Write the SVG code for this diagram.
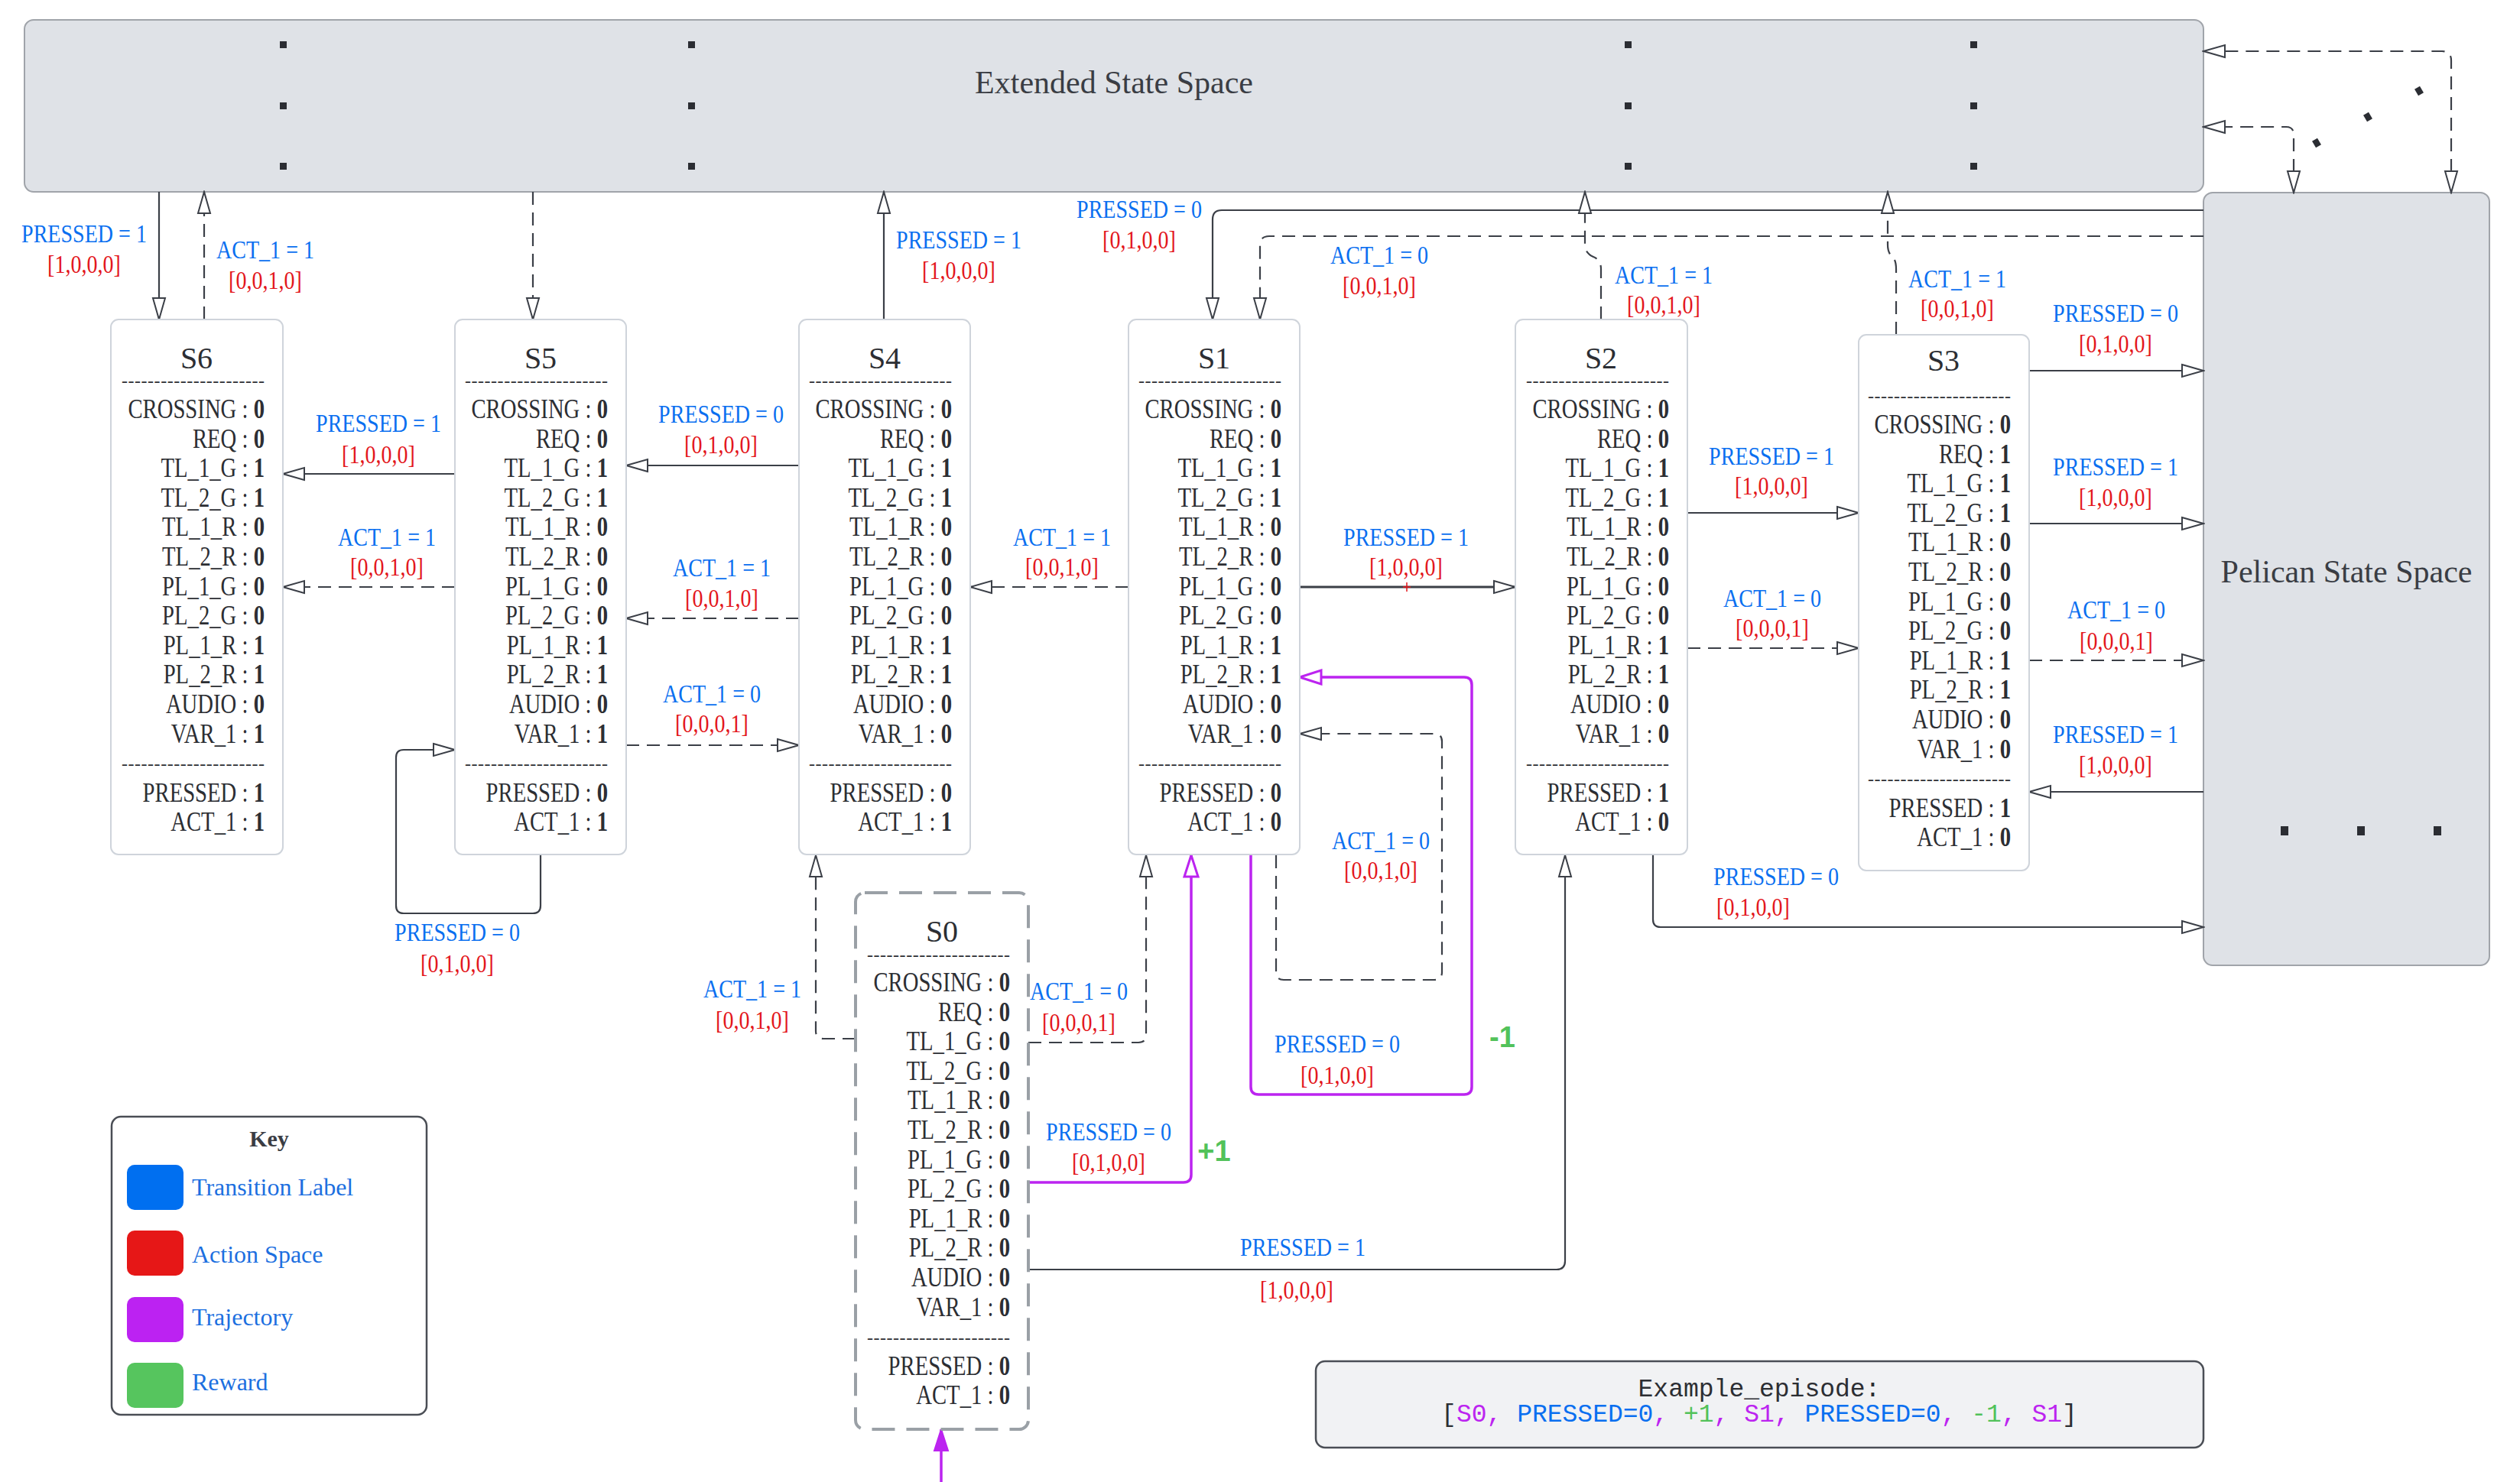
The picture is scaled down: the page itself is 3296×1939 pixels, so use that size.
<svg xmlns="http://www.w3.org/2000/svg" width="3296" height="1939" viewBox="0 0 3296 1939">
<defs>
<marker id="a" viewBox="0 0 32 20" refX="30" refY="10" markerWidth="32" markerHeight="20" markerUnits="userSpaceOnUse" orient="auto-start-reverse"><path d="M2,2 L30,10 L2,18 Z" fill="#fff" stroke="#3b3f47" stroke-width="2"/></marker>
<marker id="p" viewBox="0 0 32 22" refX="30" refY="11" markerWidth="32" markerHeight="22" markerUnits="userSpaceOnUse" orient="auto-start-reverse"><path d="M2,2 L30,11 L2,20 Z" fill="#fff" stroke="#bc24f0" stroke-width="3"/></marker>
<marker id="pf" viewBox="0 0 32 22" refX="30" refY="11" markerWidth="32" markerHeight="22" markerUnits="userSpaceOnUse" orient="auto"><path d="M2,2 L30,11 L2,20 Z" fill="#bc24f0" stroke="#bc24f0" stroke-width="2"/></marker>
</defs>
<style>
.big{fill:#dfe2e7;stroke:#a0a4aa;stroke-width:2}
.node{fill:#fff;stroke:#cfd4db;stroke-width:2}
.ln{fill:none;stroke:#3b3f47;stroke-width:2.2;marker-end:url(#a)}
.dl{fill:none;stroke:#3b3f47;stroke-width:2.2;stroke-dasharray:17 10;marker-end:url(#a)}
.bi{marker-start:url(#a)}
.pl{fill:none;stroke:#bc24f0;stroke-width:3.5;marker-end:url(#p)}
.bt{font-family:"Liberation Serif",serif;font-size:42px;fill:#3a3d44;text-anchor:middle}
.ti{font-family:"Liberation Serif",serif;font-size:40px;fill:#2c2e33;text-anchor:middle}
.d{font-family:"Liberation Serif",serif;font-size:24px;fill:#2c2e33;text-anchor:end}
.t{font-family:"Liberation Serif",serif;font-size:35px;fill:#2c2e33;text-anchor:end;transform-box:fill-box;transform-origin:100% 50%;transform:scaleX(0.82)}
.v{font-weight:bold}
.lb,.la{font-family:"Liberation Serif",serif;font-size:33px;text-anchor:middle;transform-box:fill-box;transform-origin:50% 50%;transform:scaleX(0.85)}
.lb{fill:#0a6ff0}
.la{fill:#e3161b}
.rw{font-family:"Liberation Sans",sans-serif;font-size:38px;font-weight:bold;fill:#52c25a;text-anchor:middle}
.dot{fill:#2b2d33}
.kt{font-family:"Liberation Serif",serif;font-size:32px;fill:#1c6fe0}
.mono{font-family:"Liberation Mono",monospace;font-size:33px;fill:#2c2e33;text-anchor:middle}
</style>
<rect width="3296" height="1939" fill="#fff"/>

<g id="extended">
<rect class="big" x="32" y="26" width="2850" height="225" rx="12"/>
<text class="bt" x="1457" y="122">Extended State Space</text>
<rect class="dot" x="366" y="54" width="9" height="9"/><rect class="dot" x="366" y="134" width="9" height="9"/><rect class="dot" x="366" y="213" width="9" height="9"/>
<rect class="dot" x="900" y="54" width="9" height="9"/><rect class="dot" x="900" y="134" width="9" height="9"/><rect class="dot" x="900" y="213" width="9" height="9"/>
<rect class="dot" x="2125" y="54" width="9" height="9"/><rect class="dot" x="2125" y="134" width="9" height="9"/><rect class="dot" x="2125" y="213" width="9" height="9"/>
<rect class="dot" x="2577" y="54" width="9" height="9"/><rect class="dot" x="2577" y="134" width="9" height="9"/><rect class="dot" x="2577" y="213" width="9" height="9"/>
</g>

<g id="pelican">
<rect class="big" x="2882" y="252" width="374" height="1011" rx="12"/>
<text class="bt" x="3069" y="762">Pelican State Space</text>
<rect class="dot" x="2983" y="1081" width="10" height="12"/><rect class="dot" x="3083" y="1081" width="10" height="12"/><rect class="dot" x="3183" y="1081" width="10" height="12"/>
</g>

<g id="ellipsis-dots">
<rect class="dot" x="3026" y="182" width="8" height="10" transform="rotate(-30 3030 187)"/>
<rect class="dot" x="3093" y="148" width="8" height="10" transform="rotate(-30 3097 153)"/>
<rect class="dot" x="3160" y="114" width="8" height="10" transform="rotate(-30 3164 119)"/>
</g>

<g id="connectors">
<path class="ln" d="M208,251 V418"/>
<path class="dl" d="M267,418 V251"/>
<path class="dl" d="M697,251 V418"/>
<path class="ln" d="M595,620 H370"/>
<path class="dl" d="M595,768 H370"/>
<path class="ln" d="M1045,609 H819"/>
<path class="dl" d="M1045,809 H819"/>
<path class="dl" d="M819,975 H1045"/>
<path class="ln" d="M707,1118 V1185 Q707,1195 697,1195 H528 Q518,1195 518,1185 V991 Q518,981 528,981 H595"/>
<path class="ln" d="M1156,418 V251"/>
<path class="dl" d="M1476,768 H1269"/>
<path class="ln" style="stroke-width:3" d="M1700,768 H1982"/>
<path d="M1840,762 V774 M1835,768 H1845" stroke="#e3161b" stroke-width="1.5" fill="none"/>
<path class="ln" d="M2882,275 H1598 Q1586,275 1586,287 V418"/>
<path class="dl" d="M2882,309 H1660 Q1648,309 1648,321 V418"/>
<path class="dl" d="M2094,418 V352 Q2094,340 2084,336 Q2073,331 2073,320 V251"/>
<path class="dl" d="M2480,438 V352 Q2480,340 2475,336 Q2469,331 2469,320 V251"/>
<path class="ln" d="M2207,671 H2431"/>
<path class="dl" d="M2207,848 H2431"/>
<path class="ln" d="M2654,485 H2882"/>
<path class="ln" d="M2654,685 H2882"/>
<path class="dl" d="M2654,864 H2882"/>
<path class="ln" d="M2882,1036 H2654"/>
<path class="ln" d="M2162,1118 V1203 Q2162,1213 2172,1213 H2882"/>
<path class="ln" d="M1345,1661 H2036 Q2047,1661 2047,1650 V1119"/>
<path class="dl" d="M1119,1359 H1077 Q1067,1359 1067,1349 V1119"/>
<path class="dl" d="M1345,1364 H1489 Q1499,1364 1499,1354 V1119"/>
<path class="pl" d="M1345,1547 H1548 Q1558,1547 1558,1537 V1119"/>
<path class="pl" d="M1636,1119 V1422 Q1636,1432 1646,1432 H1915 Q1925,1432 1925,1422 V896 Q1925,886 1915,886 H1700"/>
<path class="dl" d="M1669,1119 V1272 Q1669,1282 1679,1282 H1876 Q1886,1282 1886,1272 V970 Q1886,960 1876,960 H1700"/>
<path d="M1231,1939 V1870" fill="none" stroke="#bc24f0" stroke-width="3.5" marker-end="url(#pf)"/>
<path class="dl bi" d="M3206,252 V79 Q3206,67 3194,67 H2882"/>
<path class="dl bi" d="M3000,252 V176 Q3000,166 2990,166 H2882"/>

<text class="lb" x="110" y="317">PRESSED = 1</text><text class="la" x="110" y="357">[1,0,0,0]</text>
<text class="lb" x="347" y="338">ACT_1 = 1</text><text class="la" x="347" y="378">[0,0,1,0]</text>
<text class="lb" x="495" y="565">PRESSED = 1</text><text class="la" x="495" y="606">[1,0,0,0]</text>
<text class="lb" x="506" y="714">ACT_1 = 1</text><text class="la" x="506" y="753">[0,0,1,0]</text>
<text class="lb" x="943" y="553">PRESSED = 0</text><text class="la" x="943" y="593">[0,1,0,0]</text>
<text class="lb" x="944" y="754">ACT_1 = 1</text><text class="la" x="944" y="794">[0,0,1,0]</text>
<text class="lb" x="931" y="919">ACT_1 = 0</text><text class="la" x="931" y="958">[0,0,0,1]</text>
<text class="lb" x="598" y="1231">PRESSED = 0</text><text class="la" x="598" y="1272">[0,1,0,0]</text>
<text class="lb" x="1254" y="325">PRESSED = 1</text><text class="la" x="1254" y="365">[1,0,0,0]</text>
<text class="lb" x="1389" y="714">ACT_1 = 1</text><text class="la" x="1389" y="753">[0,0,1,0]</text>
<text class="lb" x="1839" y="714">PRESSED = 1</text><text class="la" x="1839" y="753">[1,0,0,0]</text>
<text class="lb" x="1490" y="285">PRESSED = 0</text><text class="la" x="1490" y="325">[0,1,0,0]</text>
<text class="lb" x="1804" y="345">ACT_1 = 0</text><text class="la" x="1804" y="385">[0,0,1,0]</text>
<text class="lb" x="2176" y="371">ACT_1 = 1</text><text class="la" x="2176" y="410">[0,0,1,0]</text>
<text class="lb" x="2560" y="376">ACT_1 = 1</text><text class="la" x="2560" y="415">[0,0,1,0]</text>
<text class="lb" x="2317" y="608">PRESSED = 1</text><text class="la" x="2317" y="647">[1,0,0,0]</text>
<text class="lb" x="2318" y="794">ACT_1 = 0</text><text class="la" x="2318" y="833">[0,0,0,1]</text>
<text class="lb" x="2767" y="421">PRESSED = 0</text><text class="la" x="2767" y="461">[0,1,0,0]</text>
<text class="lb" x="2767" y="622">PRESSED = 1</text><text class="la" x="2767" y="662">[1,0,0,0]</text>
<text class="lb" x="2768" y="809">ACT_1 = 0</text><text class="la" x="2768" y="850">[0,0,0,1]</text>
<text class="lb" x="2767" y="972">PRESSED = 1</text><text class="la" x="2767" y="1012">[1,0,0,0]</text>
<text class="lb" x="2323" y="1158">PRESSED = 0</text><text class="la" x="2293" y="1198">[0,1,0,0]</text>
<text class="lb" x="1704" y="1643">PRESSED = 1</text><text class="la" x="1696" y="1699">[1,0,0,0]</text>
<text class="lb" x="984" y="1305">ACT_1 = 1</text><text class="la" x="984" y="1346">[0,0,1,0]</text>
<text class="lb" x="1411" y="1308">ACT_1 = 0</text><text class="la" x="1411" y="1349">[0,0,0,1]</text>
<text class="lb" x="1450" y="1492">PRESSED = 0</text><text class="la" x="1450" y="1532">[0,1,0,0]</text>
<text class="lb" x="1749" y="1377">PRESSED = 0</text><text class="la" x="1749" y="1418">[0,1,0,0]</text>
<text class="lb" x="1806" y="1111">ACT_1 = 0</text><text class="la" x="1806" y="1150">[0,0,1,0]</text>
<text class="rw" x="1588" y="1519">+1</text>
<text class="rw" x="1965" y="1370">-1</text>
</g>

<g id="S6">
<rect class="node" x="145" y="418" width="225" height="700" rx="10"/>
<text class="ti" x="257" y="482">S6</text>
<text class="d" x="346" y="506" textLength="187" lengthAdjust="spacing">----------------------</text>
<text class="t" x="346" y="547">CROSSING : <tspan class="v">0</tspan></text>
<text class="t" x="346" y="586">REQ : <tspan class="v">0</tspan></text>
<text class="t" x="346" y="624">TL_1_G : <tspan class="v">1</tspan></text>
<text class="t" x="346" y="663">TL_2_G : <tspan class="v">1</tspan></text>
<text class="t" x="346" y="701">TL_1_R : <tspan class="v">0</tspan></text>
<text class="t" x="346" y="740">TL_2_R : <tspan class="v">0</tspan></text>
<text class="t" x="346" y="779">PL_1_G : <tspan class="v">0</tspan></text>
<text class="t" x="346" y="817">PL_2_G : <tspan class="v">0</tspan></text>
<text class="t" x="346" y="856">PL_1_R : <tspan class="v">1</tspan></text>
<text class="t" x="346" y="894">PL_2_R : <tspan class="v">1</tspan></text>
<text class="t" x="346" y="933">AUDIO : <tspan class="v">0</tspan></text>
<text class="t" x="346" y="972">VAR_1 : <tspan class="v">1</tspan></text>
<text class="d" x="346" y="1007" textLength="187" lengthAdjust="spacing">----------------------</text>
<text class="t" x="346" y="1049">PRESSED : <tspan class="v">1</tspan></text>
<text class="t" x="346" y="1087">ACT_1 : <tspan class="v">1</tspan></text>
</g>

<g id="S5">
<rect class="node" x="595" y="418" width="224" height="700" rx="10"/>
<text class="ti" x="707" y="482">S5</text>
<text class="d" x="795" y="506" textLength="187" lengthAdjust="spacing">----------------------</text>
<text class="t" x="795" y="547">CROSSING : <tspan class="v">0</tspan></text>
<text class="t" x="795" y="586">REQ : <tspan class="v">0</tspan></text>
<text class="t" x="795" y="624">TL_1_G : <tspan class="v">1</tspan></text>
<text class="t" x="795" y="663">TL_2_G : <tspan class="v">1</tspan></text>
<text class="t" x="795" y="701">TL_1_R : <tspan class="v">0</tspan></text>
<text class="t" x="795" y="740">TL_2_R : <tspan class="v">0</tspan></text>
<text class="t" x="795" y="779">PL_1_G : <tspan class="v">0</tspan></text>
<text class="t" x="795" y="817">PL_2_G : <tspan class="v">0</tspan></text>
<text class="t" x="795" y="856">PL_1_R : <tspan class="v">1</tspan></text>
<text class="t" x="795" y="894">PL_2_R : <tspan class="v">1</tspan></text>
<text class="t" x="795" y="933">AUDIO : <tspan class="v">0</tspan></text>
<text class="t" x="795" y="972">VAR_1 : <tspan class="v">1</tspan></text>
<text class="d" x="795" y="1007" textLength="187" lengthAdjust="spacing">----------------------</text>
<text class="t" x="795" y="1049">PRESSED : <tspan class="v">0</tspan></text>
<text class="t" x="795" y="1087">ACT_1 : <tspan class="v">1</tspan></text>
</g>

<g id="S4">
<rect class="node" x="1045" y="418" width="224" height="700" rx="10"/>
<text class="ti" x="1157" y="482">S4</text>
<text class="d" x="1245" y="506" textLength="187" lengthAdjust="spacing">----------------------</text>
<text class="t" x="1245" y="547">CROSSING : <tspan class="v">0</tspan></text>
<text class="t" x="1245" y="586">REQ : <tspan class="v">0</tspan></text>
<text class="t" x="1245" y="624">TL_1_G : <tspan class="v">1</tspan></text>
<text class="t" x="1245" y="663">TL_2_G : <tspan class="v">1</tspan></text>
<text class="t" x="1245" y="701">TL_1_R : <tspan class="v">0</tspan></text>
<text class="t" x="1245" y="740">TL_2_R : <tspan class="v">0</tspan></text>
<text class="t" x="1245" y="779">PL_1_G : <tspan class="v">0</tspan></text>
<text class="t" x="1245" y="817">PL_2_G : <tspan class="v">0</tspan></text>
<text class="t" x="1245" y="856">PL_1_R : <tspan class="v">1</tspan></text>
<text class="t" x="1245" y="894">PL_2_R : <tspan class="v">1</tspan></text>
<text class="t" x="1245" y="933">AUDIO : <tspan class="v">0</tspan></text>
<text class="t" x="1245" y="972">VAR_1 : <tspan class="v">0</tspan></text>
<text class="d" x="1245" y="1007" textLength="187" lengthAdjust="spacing">----------------------</text>
<text class="t" x="1245" y="1049">PRESSED : <tspan class="v">0</tspan></text>
<text class="t" x="1245" y="1087">ACT_1 : <tspan class="v">1</tspan></text>
</g>

<g id="S1">
<rect class="node" x="1476" y="418" width="224" height="700" rx="10"/>
<text class="ti" x="1588" y="482">S1</text>
<text class="d" x="1676" y="506" textLength="187" lengthAdjust="spacing">----------------------</text>
<text class="t" x="1676" y="547">CROSSING : <tspan class="v">0</tspan></text>
<text class="t" x="1676" y="586">REQ : <tspan class="v">0</tspan></text>
<text class="t" x="1676" y="624">TL_1_G : <tspan class="v">1</tspan></text>
<text class="t" x="1676" y="663">TL_2_G : <tspan class="v">1</tspan></text>
<text class="t" x="1676" y="701">TL_1_R : <tspan class="v">0</tspan></text>
<text class="t" x="1676" y="740">TL_2_R : <tspan class="v">0</tspan></text>
<text class="t" x="1676" y="779">PL_1_G : <tspan class="v">0</tspan></text>
<text class="t" x="1676" y="817">PL_2_G : <tspan class="v">0</tspan></text>
<text class="t" x="1676" y="856">PL_1_R : <tspan class="v">1</tspan></text>
<text class="t" x="1676" y="894">PL_2_R : <tspan class="v">1</tspan></text>
<text class="t" x="1676" y="933">AUDIO : <tspan class="v">0</tspan></text>
<text class="t" x="1676" y="972">VAR_1 : <tspan class="v">0</tspan></text>
<text class="d" x="1676" y="1007" textLength="187" lengthAdjust="spacing">----------------------</text>
<text class="t" x="1676" y="1049">PRESSED : <tspan class="v">0</tspan></text>
<text class="t" x="1676" y="1087">ACT_1 : <tspan class="v">0</tspan></text>
</g>

<g id="S2">
<rect class="node" x="1982" y="418" width="225" height="700" rx="10"/>
<text class="ti" x="2094" y="482">S2</text>
<text class="d" x="2183" y="506" textLength="187" lengthAdjust="spacing">----------------------</text>
<text class="t" x="2183" y="547">CROSSING : <tspan class="v">0</tspan></text>
<text class="t" x="2183" y="586">REQ : <tspan class="v">0</tspan></text>
<text class="t" x="2183" y="624">TL_1_G : <tspan class="v">1</tspan></text>
<text class="t" x="2183" y="663">TL_2_G : <tspan class="v">1</tspan></text>
<text class="t" x="2183" y="701">TL_1_R : <tspan class="v">0</tspan></text>
<text class="t" x="2183" y="740">TL_2_R : <tspan class="v">0</tspan></text>
<text class="t" x="2183" y="779">PL_1_G : <tspan class="v">0</tspan></text>
<text class="t" x="2183" y="817">PL_2_G : <tspan class="v">0</tspan></text>
<text class="t" x="2183" y="856">PL_1_R : <tspan class="v">1</tspan></text>
<text class="t" x="2183" y="894">PL_2_R : <tspan class="v">1</tspan></text>
<text class="t" x="2183" y="933">AUDIO : <tspan class="v">0</tspan></text>
<text class="t" x="2183" y="972">VAR_1 : <tspan class="v">0</tspan></text>
<text class="d" x="2183" y="1007" textLength="187" lengthAdjust="spacing">----------------------</text>
<text class="t" x="2183" y="1049">PRESSED : <tspan class="v">1</tspan></text>
<text class="t" x="2183" y="1087">ACT_1 : <tspan class="v">0</tspan></text>
</g>

<g id="S3">
<rect class="node" x="2431" y="438" width="223" height="701" rx="10"/>
<text class="ti" x="2542" y="485">S3</text>
<text class="d" x="2630" y="526" textLength="187" lengthAdjust="spacing">----------------------</text>
<text class="t" x="2630" y="567">CROSSING : <tspan class="v">0</tspan></text>
<text class="t" x="2630" y="606">REQ : <tspan class="v">1</tspan></text>
<text class="t" x="2630" y="644">TL_1_G : <tspan class="v">1</tspan></text>
<text class="t" x="2630" y="683">TL_2_G : <tspan class="v">1</tspan></text>
<text class="t" x="2630" y="721">TL_1_R : <tspan class="v">0</tspan></text>
<text class="t" x="2630" y="760">TL_2_R : <tspan class="v">0</tspan></text>
<text class="t" x="2630" y="799">PL_1_G : <tspan class="v">0</tspan></text>
<text class="t" x="2630" y="837">PL_2_G : <tspan class="v">0</tspan></text>
<text class="t" x="2630" y="876">PL_1_R : <tspan class="v">1</tspan></text>
<text class="t" x="2630" y="914">PL_2_R : <tspan class="v">1</tspan></text>
<text class="t" x="2630" y="953">AUDIO : <tspan class="v">0</tspan></text>
<text class="t" x="2630" y="992">VAR_1 : <tspan class="v">0</tspan></text>
<text class="d" x="2630" y="1027" textLength="187" lengthAdjust="spacing">----------------------</text>
<text class="t" x="2630" y="1069">PRESSED : <tspan class="v">1</tspan></text>
<text class="t" x="2630" y="1107">ACT_1 : <tspan class="v">0</tspan></text>
</g>

<g id="S0">
<rect x="1119" y="1168" width="226" height="702" rx="12" fill="#fff" stroke="#9aa0a6" stroke-width="4" stroke-dasharray="30 15"/>
<text class="ti" x="1232" y="1232">S0</text>
<text class="d" x="1321" y="1257" textLength="187" lengthAdjust="spacing">----------------------</text>
<text class="t" x="1321" y="1297">CROSSING : <tspan class="v">0</tspan></text>
<text class="t" x="1321" y="1336">REQ : <tspan class="v">0</tspan></text>
<text class="t" x="1321" y="1374">TL_1_G : <tspan class="v">0</tspan></text>
<text class="t" x="1321" y="1413">TL_2_G : <tspan class="v">0</tspan></text>
<text class="t" x="1321" y="1451">TL_1_R : <tspan class="v">0</tspan></text>
<text class="t" x="1321" y="1490">TL_2_R : <tspan class="v">0</tspan></text>
<text class="t" x="1321" y="1529">PL_1_G : <tspan class="v">0</tspan></text>
<text class="t" x="1321" y="1567">PL_2_G : <tspan class="v">0</tspan></text>
<text class="t" x="1321" y="1606">PL_1_R : <tspan class="v">0</tspan></text>
<text class="t" x="1321" y="1644">PL_2_R : <tspan class="v">0</tspan></text>
<text class="t" x="1321" y="1683">AUDIO : <tspan class="v">0</tspan></text>
<text class="t" x="1321" y="1722">VAR_1 : <tspan class="v">0</tspan></text>
<text class="d" x="1321" y="1758" textLength="187" lengthAdjust="spacing">----------------------</text>
<text class="t" x="1321" y="1799">PRESSED : <tspan class="v">0</tspan></text>
<text class="t" x="1321" y="1837">ACT_1 : <tspan class="v">0</tspan></text>
</g>

<g id="key">
<rect x="146" y="1461" width="412" height="390" rx="12" fill="#fff" stroke="#4a4e55" stroke-width="2.5"/>
<text x="352" y="1500" font-family="'Liberation Serif',serif" font-size="30" font-weight="bold" fill="#3a3d44" text-anchor="middle">Key</text>
<rect x="166" y="1524" width="74" height="59" rx="10" fill="#006ff0"/>
<rect x="166" y="1610" width="74" height="59" rx="10" fill="#e61717"/>
<rect x="166" y="1697" width="74" height="59" rx="10" fill="#bc22f2"/>
<rect x="166" y="1783" width="74" height="59" rx="10" fill="#56c55e"/>
<text class="kt" x="251" y="1564">Transition Label</text>
<text class="kt" x="251" y="1652">Action Space</text>
<text class="kt" x="251" y="1734">Trajectory</text>
<text class="kt" x="251" y="1819">Reward</text>
</g>

<g id="episode">
<rect x="1721" y="1781" width="1161" height="113" rx="12" fill="#f1f2f4" stroke="#4a4e55" stroke-width="2.5"/>
<text class="mono" x="2301" y="1827">Example_episode:</text>
<text class="mono" x="2301" y="1860">[<tspan fill="#bc24f0">S0, </tspan><tspan fill="#0a6ff0">PRESSED=0</tspan><tspan fill="#bc24f0">, </tspan><tspan fill="#52c25a">+1</tspan><tspan fill="#bc24f0">, S1, </tspan><tspan fill="#0a6ff0">PRESSED=0</tspan><tspan fill="#bc24f0">, </tspan><tspan fill="#52c25a">-1</tspan><tspan fill="#bc24f0">, S1</tspan>]</text>
</g>
</svg>
